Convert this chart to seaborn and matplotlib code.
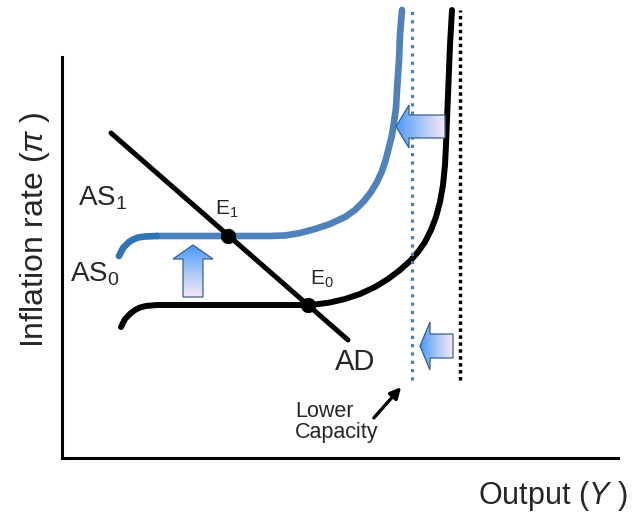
import numpy as np
import matplotlib
matplotlib.use('Agg')
import matplotlib.pyplot as plt
from matplotlib.patches import Polygon
from matplotlib.colors import LinearSegmentedColormap
import seaborn as sns

# curve points (output Y, inflation pi), pixel-sized units
as0_x = [59, 61, 63, 66, 69, 73, 78, 84, 95, 238, 253, 268, 283, 298, 313, 326, 338, 348, 356,
         363, 369, 374, 378, 381, 383, 384, 385, 386, 387, 388, 390]
as0_y = [131, 135, 139, 142, 145, 148, 150.5, 152, 153, 153, 153.5, 155.5, 159, 164, 171, 179, 188,
         197, 206, 216, 228, 241, 256, 273, 293, 313, 338, 363, 388, 413, 448]

as1_arc_x = [57, 59, 61, 64, 67, 71, 76, 83, 95]
as1_arc_y = [202, 206, 210, 213, 216, 218.5, 220.5, 221.5, 222]
as1_x = [95, 208, 223, 238, 253, 268, 283, 293, 302, 309, 315, 320, 324, 327, 330, 332, 334, 335,
         337, 338, 340]
as1_y = [222, 222, 222.5, 225, 229, 234, 241, 248, 257, 266, 276, 287, 299, 311, 323, 336, 350, 368,
         398, 423, 448]

ad_x = [49, 286]
ad_y = [325, 118]

eq_x = [166, 246]
eq_y = [222, 153]

capacity_old = 398
capacity_new = 350
capacity_span = [78, 448]

sns.set_style('white')
plt.rcParams['font.family'] = ['Liberation Sans', 'DejaVu Sans']
plt.rcParams['mathtext.fontset'] = 'custom'
plt.rcParams['mathtext.rm'] = 'Liberation Sans'
plt.rcParams['mathtext.it'] = 'Liberation Sans:italic'

fig = plt.figure(figsize=(6.34, 5.18), dpi=100)
ax = fig.add_axes([62 / 634, 60 / 518, 572 / 634, 458 / 518])

blue = '#4f81bd'

# capacity lines
ax.plot([capacity_new, capacity_new], capacity_span, color='#4a7ec4', lw=2.3,
        ls=(0, (1, 1.6)), dash_capstyle='butt', zorder=4)
ax.plot([capacity_old, capacity_old], capacity_span, color='black', lw=2.5,
        ls=(0, (1, 1)), dash_capstyle='butt', zorder=4)

# AS curves
line_kw = dict(sort=False, estimator=None, ax=ax, zorder=3)
sns.lineplot(x=as0_x, y=as0_y, color='black', lw=4.3, **line_kw)
sns.lineplot(x=as1_x, y=as1_y, color=blue, lw=4.8, **line_kw)
sns.lineplot(x=as1_arc_x, y=as1_arc_y, color='#2e75b6', lw=4.8, **line_kw)
for ln in ax.lines:
    ln.set_solid_joinstyle('round')

# AD
sns.lineplot(x=ad_x, y=ad_y, sort=False, estimator=None, color='black', lw=3.6, ax=ax, zorder=5)
ax.plot(eq_x, eq_y, 'o', color='black', ms=10, zorder=6)

# gradient block arrows
grad = LinearSegmentedColormap.from_list('g', ['#4a98ff', '#a4c6f4', '#f6e6f4'])


def block_arrow(tip, base, tail, head_half, shaft_half, vertical=False):
    tx, ty = tip
    if not vertical:
        pts = [(tx, ty), (base, ty + head_half), (base, ty + shaft_half), (tail, ty + shaft_half),
               (tail, ty - shaft_half), (base, ty - shaft_half), (base, ty - head_half)]
        ext = (tx, tail, ty - head_half, ty + head_half)
        img = np.linspace(0, 1, 100).reshape(1, -1)
    else:
        pts = [(tx, ty), (tx + head_half, base), (tx + shaft_half, base), (tx + shaft_half, tail),
               (tx - shaft_half, tail), (tx - shaft_half, base), (tx - head_half, base)]
        ext = (tx - head_half, tx + head_half, tail, ty)
        img = np.linspace(1, 0, 100).reshape(-1, 1)
    poly = Polygon(pts, closed=True, facecolor='none', edgecolor='#3a5f8f', lw=0.9, zorder=8)
    ax.add_patch(poly)
    im = ax.imshow(img, cmap=grad, extent=ext, origin='lower', aspect='auto', zorder=7)
    im.set_clip_path(poly)


block_arrow((334, 331.5), 347, 383, 21.5, 11.5)
block_arrow((358, 112), 368, 391, 24, 12)
block_arrow((131, 213), 199, 161, 20, 10, vertical=True)

# labels
ax.text(16, 253, 'AS$_1$', fontsize=20, ha='left', va='baseline')
ax.text(8, 176, 'AS$_0$', fontsize=20, ha='left', va='baseline')
ax.text(153, 243, 'E$_1$', fontsize=15, ha='left', va='baseline')
ax.text(248, 173, 'E$_0$', fontsize=15, ha='left', va='baseline')
ax.text(273, 88, 'AD', fontsize=21, ha='left', va='baseline')
ax.text(233, 41, 'Lower', fontsize=15.5, ha='left', va='baseline')
ax.text(233, 20, 'Capacity', fontsize=15.5, ha='left', va='baseline')
ax.annotate('', xy=(341, 73), xytext=(310, 38),
            arrowprops=dict(arrowstyle='-|>', color='black', lw=2.4, mutation_scale=16))

ax.text(-27, 228, r'Inflation rate ($\pi$ )', fontsize=23, rotation=90,
        ha='center', va='center', clip_on=False)
ax.text(491, -38, 'Output ($Y$ )', fontsize=22, ha='center', va='center', clip_on=False)

ax.set_xlim(0, 572)
ax.set_ylim(0, 458)
ax.set_xticks([])
ax.set_yticks([])
for s in ['top', 'right']:
    ax.spines[s].set_visible(False)
for s in ['left', 'bottom']:
    ax.spines[s].set_color('black')
    ax.spines[s].set_linewidth(2.2)
ax.spines['left'].set_bounds(0, 401)
ax.spines['bottom'].set_bounds(0, 556)

fig.savefig('out.png', dpi=100)
